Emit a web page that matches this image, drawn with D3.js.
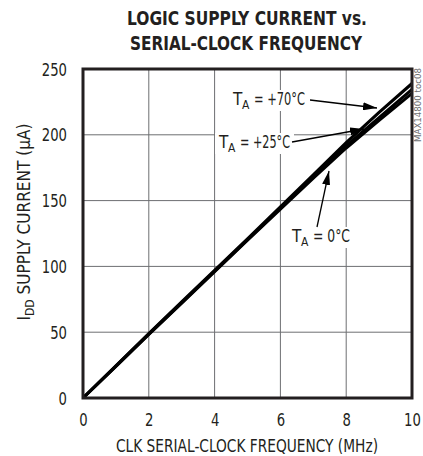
<!DOCTYPE html>
<html>
<head>
<meta charset="utf-8">
<script src="https://cdn.jsdelivr.net/npm/d3@7"></script>
<style>
  body { margin: 0; background: #fff; }
  text { font-family: "DejaVu Sans Condensed", "DejaVu Sans", sans-serif; fill: #231f20; }
</style>
</head>
<body>
<div id="chart"></div>
<script>
// data
var freq = [0, 1, 2, 3, 4, 5, 6, 7, 8, 9, 10];
var i0C  = [0, 24, 48.3, 72, 96, 120, 143.5, 167, 190, 211, 231.5];
var i25C = [0, 24.2, 48.6, 72.4, 96.4, 120.4, 144.3, 168, 191.5, 213, 234.5];
var i70C = [0, 24.5, 49, 73, 97, 121, 145.3, 169.5, 194, 217, 239];
var xTicks = [0, 2, 4, 6, 8, 10];
var yTicks = [0, 50, 100, 150, 200, 250];

var width = 423, height = 456;
var margin = {top: 69, right: 11, bottom: 58, left: 83};

var svg = d3.select("#chart").append("svg")
    .attr("width", width)
    .attr("height", height);

var x = d3.scaleLinear().domain([0, 10]).range([margin.left, width - margin.right]);
var y = d3.scaleLinear().domain([0, 250]).range([height - margin.bottom, margin.top]);

// squeeze a text to the width it has in the reference
function fit(t, w) {
  t.attr("textLength", w).attr("lengthAdjust", "spacingAndGlyphs");
  return t;
}

// title
fit(svg.append("text").attr("x", 247).attr("y", 25).attr("text-anchor", "middle")
    .style("font-size", "20px").style("font-weight", "bold").text("LOGIC SUPPLY CURRENT vs."), 240);
fit(svg.append("text").attr("x", 246).attr("y", 50).attr("text-anchor", "middle")
    .style("font-size", "20px").style("font-weight", "bold").text("SERIAL-CLOCK FREQUENCY"), 232);

// grid
svg.append("g").selectAll("line").data(xTicks.slice(1, -1)).enter().append("line")
    .attr("x1", function(d){ return x(d); }).attr("x2", function(d){ return x(d); })
    .attr("y1", y(0)).attr("y2", y(250))
    .attr("stroke", "#6d6e71").attr("stroke-width", 1);
svg.append("g").selectAll("line").data(yTicks.slice(1, -1)).enter().append("line")
    .attr("x1", x(0)).attr("x2", x(10))
    .attr("y1", function(d){ return y(d); }).attr("y2", function(d){ return y(d); })
    .attr("stroke", "#6d6e71").attr("stroke-width", 1);

// axes (labels only)
var xAxis = svg.append("g").attr("transform", "translate(0," + (y(0) + 16) + ")")
    .call(d3.axisBottom(x).tickValues(xTicks).tickSize(0).tickPadding(0));
var yAxis = svg.append("g").attr("transform", "translate(" + (x(0) - 16) + ",0)")
    .call(d3.axisLeft(y).tickValues(yTicks).tickSize(0).tickPadding(0));
[xAxis, yAxis].forEach(function(a){
  a.select(".domain").remove();
  a.selectAll("text").style("font-size", "17px")
    .style("font-family", "'DejaVu Sans Condensed', 'DejaVu Sans', sans-serif").attr("fill", "#231f20")
    .each(function(d){
      var n = String(d).length;
      d3.select(this).attr("textLength", n * 8.4).attr("lengthAdjust", "spacingAndGlyphs");
    });
});
xAxis.selectAll("text").attr("dy", "0.7em");
yAxis.selectAll("text").attr("dy", "0.36em");

// axis titles
fit(svg.append("text").attr("x", 247).attr("y", 452).attr("text-anchor", "middle")
    .style("font-size", "17px").text("CLK SERIAL-CLOCK FREQUENCY (MHz)"), 262);
var yl = svg.append("text").attr("transform", "translate(30,222) rotate(-90)")
    .attr("text-anchor", "middle").style("font-size", "17px");
yl.append("tspan").text("I");
yl.append("tspan").attr("dy", 4).style("font-size", "12px").text("DD");
yl.append("tspan").attr("dy", -4).text(" SUPPLY CURRENT (\u03bcA)");
fit(yl, 197);

// curves
var line = d3.line().x(function(d){ return x(d[0]); }).y(function(d){ return y(d[1]); });
[i0C, i25C, i70C].forEach(function(s){
  svg.append("path").datum(d3.zip(freq, s)).attr("d", line)
    .attr("fill", "none").attr("stroke", "#000").attr("stroke-width", 3.1);
});

// frame
svg.append("rect").attr("x", x(0)).attr("y", y(250))
    .attr("width", x(10) - x(0)).attr("height", y(0) - y(250))
    .attr("fill", "none").attr("stroke", "#231f20").attr("stroke-width", 3);

// annotations
svg.append("defs").append("marker").attr("id", "arr")
    .attr("viewBox", "0 0 14 8").attr("refX", 14).attr("refY", 4)
    .attr("markerWidth", 14).attr("markerHeight", 8).attr("markerUnits", "userSpaceOnUse")
    .attr("orient", "auto")
  .append("path").attr("d", "M0,0L14,4L0,8Z").attr("fill", "#000");

function label(tx, ty, w, rest, ax1, ay1, ax2, ay2) {
  svg.append("rect").attr("x", tx - 4).attr("y", ty - 15).attr("width", w + 8).attr("height", 21)
    .attr("fill", "#fff");
  svg.append("text").attr("x", tx).attr("y", ty).style("font-size", "17px").text("T");
  svg.append("text").attr("x", tx + 9).attr("y", ty + 4).style("font-size", "12px").text("A");
  fit(svg.append("text").attr("x", tx + 21).attr("y", ty).style("font-size", "17px").text(rest), w - 21);
  svg.append("line").attr("x1", ax1).attr("y1", ay1).attr("x2", ax2).attr("y2", ay2)
    .attr("stroke", "#000").attr("stroke-width", 1.3).attr("marker-end", "url(#arr)");
}
label(233, 105, 72, "= +70\u00b0C", 310, 100, 377, 108);
label(219, 148, 71, "= +25\u00b0C", 292, 142, 364, 129);
label(292, 242, 58, "= 0\u00b0C", 317, 227, 329, 171);

// part number
svg.append("text").attr("transform", "translate(421,142) rotate(-90)")
    .style("font-size", "9px").style("fill", "#6d6e71").text("MAX14800 toc08")
    .attr("textLength", 74).attr("lengthAdjust", "spacingAndGlyphs");
</script>
</body>
</html>
